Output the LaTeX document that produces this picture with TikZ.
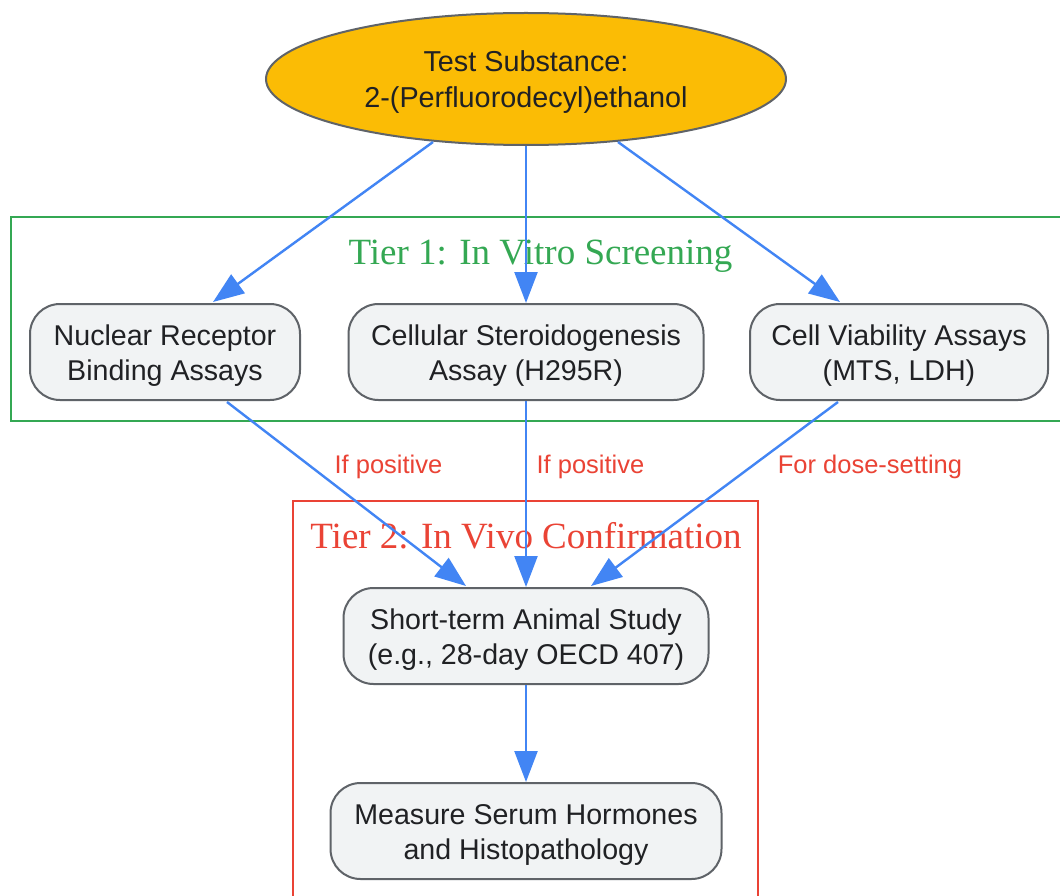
\documentclass[tikz,border=0pt]{standalone}
\usepackage{fontspec}
\setmainfont{Liberation Sans}
\newfontfamily\titlefont{Liberation Serif}
\usetikzlibrary{arrows.meta,calc,shapes.geometric}
\definecolor{gblue}{HTML}{4285F4}
\definecolor{ggreen}{HTML}{34A853}
\definecolor{gred}{HTML}{EA4335}
\definecolor{gyellow}{HTML}{FBBC05}
\definecolor{ggray}{HTML}{5F6368}
\definecolor{gfill}{HTML}{F1F3F4}
\definecolor{gtext}{HTML}{202124}
\newcommand\mytopstrut{\rule{0pt}{27pt}}
\begin{document}
\begin{tikzpicture}[x=1pt,y=-1pt,
  proc/.style={draw=ggray, line width=2pt, fill=gfill, rounded corners=30pt,
    inner sep=0pt, align=center, text=gtext, font=\fontsize{28.6}{35}\selectfont},
  start/.style={draw=ggray, line width=2pt, fill=gyellow, ellipse, inner sep=0pt,
    align=center, text=gtext, font=\fontsize{28.8}{36}\selectfont},
  tier/.style={draw=#1, line width=2.2pt},
  tiertitle/.style={text=#1, anchor=base, inner sep=0pt, font=\titlefont\fontsize{37}{44}\selectfont},
  elabel/.style={text=gred, anchor=base, inner sep=0pt, font=\fontsize{25.5}{30}\selectfont},
  arr/.style={draw=gblue, line width=2.4pt, -{Triangle[length=31pt,width=23pt]}}
]
\clip (0,0) rectangle (1060,896);
\fill[white] (0,0) rectangle (1060,896);

% tier frames
\draw[tier=ggreen] (11,217) rectangle (1075,421);
\draw[tier=gred] (293,501) rectangle (758,910);
\node[tiertitle=ggreen] (t1) at (540.5,264) {Tier 1: In Vitro Screening};
\node[tiertitle=gred] (t2) at (526,548) {Tier 2: In Vivo Confirmation};

% nodes
\node[start, minimum width=520pt, minimum height=132pt] (s) at (526,79) {\mytopstrut Test Substance:\\2-(Perfluorodecyl)ethanol};
\node[proc, minimum width=270pt, minimum height=96pt] (a) at (165,352) {\mytopstrut Nuclear Receptor\\Binding Assays};
\node[proc, minimum width=355pt, minimum height=96pt] (b) at (526,352) {\mytopstrut Cellular Steroidogenesis\\Assay (H295R)};
\node[proc, minimum width=298pt, minimum height=96pt] (c) at (899,352) {\mytopstrut Cell Viability Assays\\(MTS, LDH)};
\node[proc, minimum width=365pt, minimum height=96pt] (d) at (526,636) {\mytopstrut Short-term Animal Study\\(e.g., 28-day OECD 407)};
\node[proc, minimum width=391pt, minimum height=96pt] (e) at (526,831) {\mytopstrut Measure Serum Hormones\\and Histopathology};

% connectors
\draw[arr] ($(s.center)+(-93,63)$) -- ($(a.north)+(48,-1)$);
\draw[arr] (s.south) -- (b.north);
\draw[arr] ($(s.center)+(92,63)$) -- ($(c.north)+(-59,-1)$);
\draw[arr] ($(a.south)+(62,1)$) -- ($(d.north)+(-60,-1)$);
\draw[arr] (b.south) -- (d.north);
\draw[arr] ($(c.south)+(-61,1)$) -- ($(d.north)+(65,-1)$);
\draw[arr] (d.south) -- (e.north);

% edge labels
\node[elabel] (l1) at (388.5,473) {If positive};
\node[elabel] (l2) at (590.5,473) {If positive};
\node[elabel] (l3) at (870,473) {For dose-setting};
\end{tikzpicture}
\end{document}
